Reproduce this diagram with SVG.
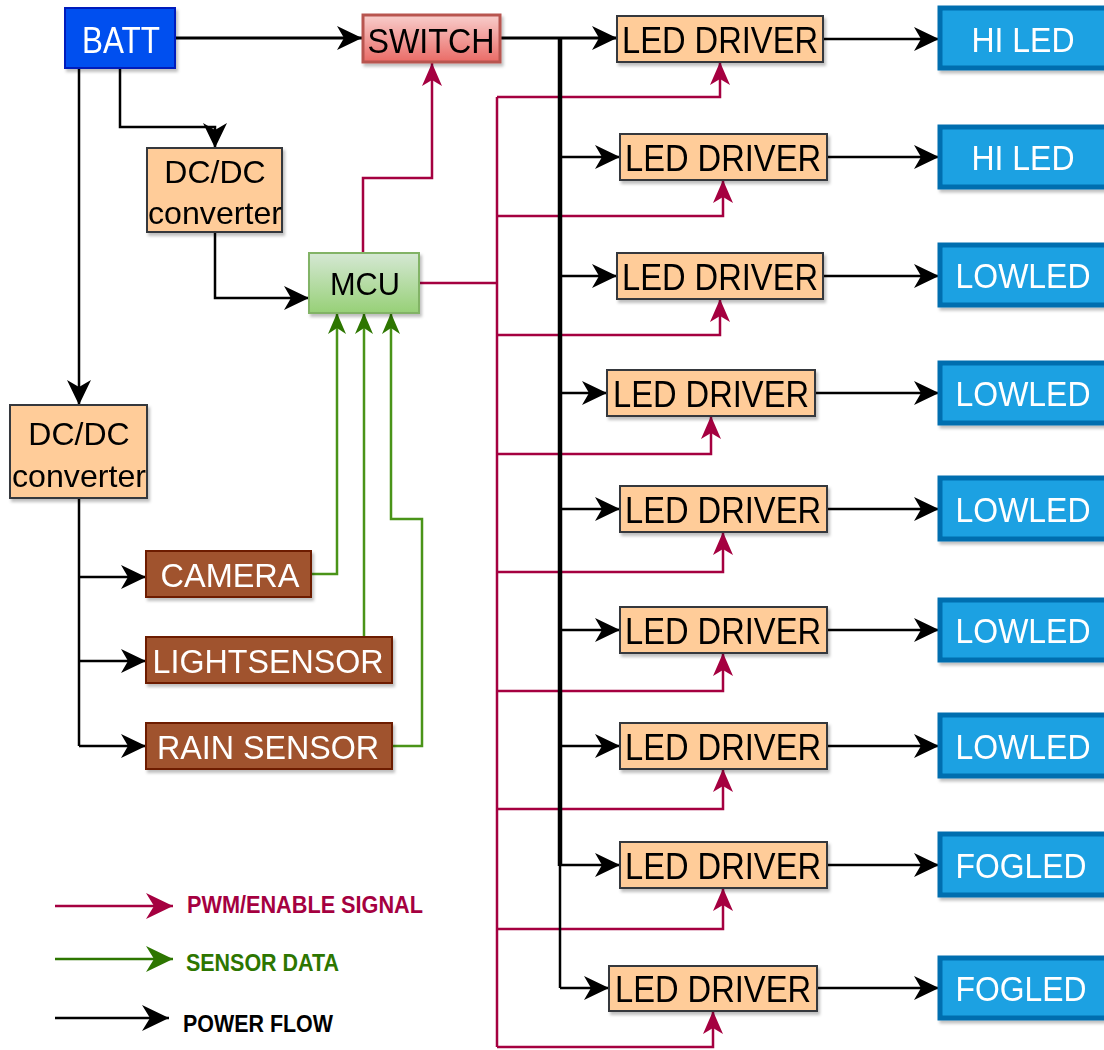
<svg xmlns="http://www.w3.org/2000/svg" width="1104" height="1050" viewBox="0 0 1104 1050">
<defs>
<style>
.t{font-family:"Liberation Sans",Arial,sans-serif;font-size:36px;text-anchor:middle}
.w{fill:#fff}
.k{fill:#000}
.drv{fill:#ffcc99;stroke:#36393d;stroke-width:2}
.led{fill:#1ba1e2;stroke:#006eaf;stroke-width:5}
.sen{fill:#a0522d;stroke:#6d1f00;stroke-width:2}
.pw{fill:none;stroke:#000;stroke-width:3}
.pwt{fill:none;stroke:#000;stroke-width:2.5}
.sg{fill:none;stroke:#a50040;stroke-width:2.5}
.gr{fill:none;stroke:#4a9418;stroke-width:2.5}
.lg{font-family:"Liberation Sans",Arial,sans-serif;font-weight:bold;font-size:24px}
</style>
<linearGradient id="gSw" x1="0" y1="0" x2="0" y2="1"><stop offset="0" stop-color="#f8cecc"/><stop offset="1" stop-color="#ea6b66"/></linearGradient>
<linearGradient id="gMcu" x1="0" y1="0" x2="0" y2="1"><stop offset="0" stop-color="#d5e8d4"/><stop offset="1" stop-color="#97d077"/></linearGradient>
<filter id="sh" x="-10%" y="-10%" width="130%" height="140%"><feDropShadow dx="2" dy="3" stdDeviation="1.5" flood-color="#000" flood-opacity="0.25"/></filter>
<marker id="aK" markerUnits="userSpaceOnUse" markerWidth="26" markerHeight="26" viewBox="0 0 26 26" refX="25" refY="13" orient="auto"><path d="M0,1 L25,13 L0,25 L7,13 Z" fill="#000"/></marker>
<marker id="aR" markerUnits="userSpaceOnUse" markerWidth="24" markerHeight="22" viewBox="0 0 24 22" refX="23" refY="11" orient="auto"><path d="M0,1 L23,11 L0,21 L6,11 Z" fill="#a50040"/></marker>
<marker id="aG" markerUnits="userSpaceOnUse" markerWidth="22" markerHeight="20" viewBox="0 0 22 20" refX="21" refY="10" orient="auto"><path d="M0,1 L21,10 L0,19 L6,10 Z" fill="#2d7600"/></marker>
<marker id="lR" markerUnits="userSpaceOnUse" markerWidth="28" markerHeight="28" viewBox="0 0 28 28" refX="27" refY="14" orient="auto"><path d="M0,1 L27,14 L0,27 L8,14 Z" fill="#a50040"/></marker>
<marker id="lG" markerUnits="userSpaceOnUse" markerWidth="28" markerHeight="28" viewBox="0 0 28 28" refX="27" refY="14" orient="auto"><path d="M0,1 L27,14 L0,27 L8,14 Z" fill="#2d7600"/></marker>
<marker id="lK" markerUnits="userSpaceOnUse" markerWidth="28" markerHeight="28" viewBox="0 0 28 28" refX="27" refY="14" orient="auto"><path d="M0,1 L27,14 L0,27 L8,14 Z" fill="#000"/></marker>
</defs>
<rect width="1104" height="1050" fill="#fff"/>

<g id="connectors">
<path class="sg" d="M363,253 V178 H432 V63" marker-end="url(#aR)"/>
<path class="sg" d="M419,283 H497"/>
<path class="sg" d="M497,97 V1047"/>
<path class="sg" d="M497,97 H720 V62" marker-end="url(#aR)"/>
<path class="sg" d="M497,216 H723 V180" marker-end="url(#aR)"/>
<path class="sg" d="M497,335 H720 V299" marker-end="url(#aR)"/>
<path class="sg" d="M497,454 H711 V416" marker-end="url(#aR)"/>
<path class="sg" d="M497,572 H723 V532" marker-end="url(#aR)"/>
<path class="sg" d="M497,691 H723 V653" marker-end="url(#aR)"/>
<path class="sg" d="M497,809 H723 V769" marker-end="url(#aR)"/>
<path class="sg" d="M497,929 H723 V888" marker-end="url(#aR)"/>
<path class="sg" d="M497,1047 H713 V1011" marker-end="url(#aR)"/>
<path class="pw" d="M175,38 H362" marker-end="url(#aK)"/>
<path class="pwt" d="M120,69 V127 H215 V148" marker-end="url(#aK)"/>
<path class="pwt" d="M79,69 V405" marker-end="url(#aK)"/>
<path class="pwt" d="M215,232 V298 H309" marker-end="url(#aK)"/>
<path class="pwt" d="M79,498 V746"/>
<path class="pwt" d="M79,577 H146" marker-end="url(#aK)"/>
<path class="pwt" d="M79,661 H146" marker-end="url(#aK)"/>
<path class="pwt" d="M79,746 H146" marker-end="url(#aK)"/>
<path class="pw" d="M500,38 H617" marker-end="url(#aK)"/>
<path d="M560,38 V866" fill="none" stroke="#000" stroke-width="4.5"/>
<path class="pwt" d="M560,860 V988"/>
<path class="pwt" d="M560,157 H620" marker-end="url(#aK)"/>
<path class="pwt" d="M560,276 H617" marker-end="url(#aK)"/>
<path class="pwt" d="M560,393 H607" marker-end="url(#aK)"/>
<path class="pwt" d="M560,509 H620" marker-end="url(#aK)"/>
<path class="pwt" d="M560,630 H620" marker-end="url(#aK)"/>
<path class="pwt" d="M560,746 H620" marker-end="url(#aK)"/>
<path class="pwt" d="M560,865 H620" marker-end="url(#aK)"/>
<path class="pwt" d="M560,988 H609" marker-end="url(#aK)"/>
<path class="pwt" d="M823,39 H939" marker-end="url(#aK)"/>
<path class="pwt" d="M827,157 H939" marker-end="url(#aK)"/>
<path class="pwt" d="M823,276 H939" marker-end="url(#aK)"/>
<path class="pwt" d="M815,393 H939" marker-end="url(#aK)"/>
<path class="pwt" d="M827,509 H939" marker-end="url(#aK)"/>
<path class="pwt" d="M827,630 H939" marker-end="url(#aK)"/>
<path class="pwt" d="M827,746 H939" marker-end="url(#aK)"/>
<path class="pwt" d="M827,865 H939" marker-end="url(#aK)"/>
<path class="pwt" d="M817,988 H939" marker-end="url(#aK)"/>
<path class="gr" d="M311,574 H337 V313" marker-end="url(#aG)"/>
<path class="gr" d="M364,637 V313" marker-end="url(#aG)"/>
<path class="gr" d="M392,746 H422 V519 H391 V313" marker-end="url(#aG)"/>
</g>

<g id="batt" filter="url(#sh)"><rect x="65" y="8" width="110" height="60" fill="#0050ef" stroke="#001dbc" stroke-width="2"/><text class="t w" x="121" y="53" textLength="78" lengthAdjust="spacingAndGlyphs">BATT</text></g>
<g id="switch" filter="url(#sh)"><rect x="363" y="15" width="137" height="47" fill="url(#gSw)" stroke="#b85450" stroke-width="3"/><text class="t k" x="431" y="53" style="font-size:35px" textLength="127" lengthAdjust="spacingAndGlyphs">SWITCH</text></g>
<g id="dcdc1" filter="url(#sh)"><rect x="147" y="148" width="135" height="84" class="drv"/><text class="t k" x="215" y="183" style="font-size:32px">DC/DC</text><text class="t k" x="215" y="224" style="font-size:32px" textLength="134" lengthAdjust="spacingAndGlyphs">converter</text></g>
<g id="mcu" filter="url(#sh)"><rect x="309" y="253" width="110" height="60" fill="url(#gMcu)" stroke="#82b366" stroke-width="2"/><text class="t k" x="365" y="295" style="font-size:32px" textLength="70" lengthAdjust="spacingAndGlyphs">MCU</text></g>
<g id="dcdc2" filter="url(#sh)"><rect x="10" y="405" width="137" height="93" class="drv"/><text class="t k" x="79" y="445" style="font-size:32px">DC/DC</text><text class="t k" x="79" y="487" style="font-size:32px" textLength="134" lengthAdjust="spacingAndGlyphs">converter</text></g>
<g id="camera" filter="url(#sh)"><rect x="146" y="551" width="165" height="46" class="sen"/><text class="t w" x="230" y="587" style="font-size:33px" textLength="139" lengthAdjust="spacingAndGlyphs">CAMERA</text></g>
<g id="lightsensor" filter="url(#sh)"><rect x="146" y="637" width="246" height="46" class="sen"/><text class="t w" x="268" y="673" style="font-size:33px" textLength="231" lengthAdjust="spacingAndGlyphs">LIGHTSENSOR</text></g>
<g id="rainsensor" filter="url(#sh)"><rect x="146" y="723" width="246" height="46" class="sen"/><text class="t w" x="268" y="759" style="font-size:33px" textLength="222" lengthAdjust="spacingAndGlyphs">RAIN SENSOR</text></g>

<g id="driver1" filter="url(#sh)"><rect x="617" y="16" width="206" height="46" class="drv"/><text class="t k" x="720" y="53" textLength="196" lengthAdjust="spacingAndGlyphs">LED DRIVER</text></g>
<g id="driver2" filter="url(#sh)"><rect x="620" y="134" width="207" height="46" class="drv"/><text class="t k" x="723" y="171" textLength="196" lengthAdjust="spacingAndGlyphs">LED DRIVER</text></g>
<g id="driver3" filter="url(#sh)"><rect x="617" y="253" width="206" height="46" class="drv"/><text class="t k" x="720" y="290" textLength="196" lengthAdjust="spacingAndGlyphs">LED DRIVER</text></g>
<g id="driver4" filter="url(#sh)"><rect x="607" y="370" width="208" height="46" class="drv"/><text class="t k" x="711" y="407" textLength="196" lengthAdjust="spacingAndGlyphs">LED DRIVER</text></g>
<g id="driver5" filter="url(#sh)"><rect x="620" y="486" width="207" height="46" class="drv"/><text class="t k" x="723" y="523" textLength="196" lengthAdjust="spacingAndGlyphs">LED DRIVER</text></g>
<g id="driver6" filter="url(#sh)"><rect x="620" y="607" width="207" height="46" class="drv"/><text class="t k" x="723" y="644" textLength="196" lengthAdjust="spacingAndGlyphs">LED DRIVER</text></g>
<g id="driver7" filter="url(#sh)"><rect x="620" y="723" width="207" height="46" class="drv"/><text class="t k" x="723" y="760" textLength="196" lengthAdjust="spacingAndGlyphs">LED DRIVER</text></g>
<g id="driver8" filter="url(#sh)"><rect x="620" y="842" width="207" height="46" class="drv"/><text class="t k" x="723" y="879" textLength="196" lengthAdjust="spacingAndGlyphs">LED DRIVER</text></g>
<g id="driver9" filter="url(#sh)"><rect x="609" y="966" width="208" height="45" class="drv"/><text class="t k" x="713" y="1002" textLength="196" lengthAdjust="spacingAndGlyphs">LED DRIVER</text></g>

<g id="led1" filter="url(#sh)"><rect x="940" y="8" width="175" height="60" class="led"/><text class="t w" x="1023" y="52" style="font-size:35px" textLength="103" lengthAdjust="spacingAndGlyphs">HI LED</text></g>
<g id="led2" filter="url(#sh)"><rect x="940" y="127" width="175" height="60" class="led"/><text class="t w" x="1023" y="170" style="font-size:35px" textLength="103" lengthAdjust="spacingAndGlyphs">HI LED</text></g>
<g id="led3" filter="url(#sh)"><rect x="940" y="245" width="175" height="60" class="led"/><text class="t w" x="1023" y="288" style="font-size:35px" textLength="135" lengthAdjust="spacingAndGlyphs">LOWLED</text></g>
<g id="led4" filter="url(#sh)"><rect x="940" y="363" width="175" height="60" class="led"/><text class="t w" x="1023" y="406" style="font-size:35px" textLength="135" lengthAdjust="spacingAndGlyphs">LOWLED</text></g>
<g id="led5" filter="url(#sh)"><rect x="940" y="478" width="175" height="61" class="led"/><text class="t w" x="1023" y="522" style="font-size:35px" textLength="135" lengthAdjust="spacingAndGlyphs">LOWLED</text></g>
<g id="led6" filter="url(#sh)"><rect x="940" y="600" width="175" height="60" class="led"/><text class="t w" x="1023" y="643" style="font-size:35px" textLength="135" lengthAdjust="spacingAndGlyphs">LOWLED</text></g>
<g id="led7" filter="url(#sh)"><rect x="940" y="715" width="175" height="61" class="led"/><text class="t w" x="1023" y="759" style="font-size:35px" textLength="135" lengthAdjust="spacingAndGlyphs">LOWLED</text></g>
<g id="led8" filter="url(#sh)"><rect x="940" y="834" width="175" height="61" class="led"/><text class="t w" x="1021" y="878" style="font-size:35px" textLength="131" lengthAdjust="spacingAndGlyphs">FOGLED</text></g>
<g id="led9" filter="url(#sh)"><rect x="940" y="958" width="175" height="60" class="led"/><text class="t w" x="1021" y="1001" style="font-size:35px" textLength="131" lengthAdjust="spacingAndGlyphs">FOGLED</text></g>

<g id="legend">
<path d="M55,906 H173" fill="none" stroke="#a50040" stroke-width="2.5" marker-end="url(#lR)"/>
<path d="M55,959 H173" fill="none" stroke="#2d7600" stroke-width="2.5" marker-end="url(#lG)"/>
<path d="M55,1018 H169" fill="none" stroke="#000" stroke-width="2.5" marker-end="url(#lK)"/>
<text class="lg" x="187" y="913" fill="#a50040" textLength="236" lengthAdjust="spacingAndGlyphs">PWM/ENABLE SIGNAL</text>
<text class="lg" x="186" y="971" fill="#2d7600" textLength="153" lengthAdjust="spacingAndGlyphs">SENSOR DATA</text>
<text class="lg" x="183" y="1032" fill="#000" textLength="150" lengthAdjust="spacingAndGlyphs">POWER FLOW</text>
</g>
</svg>
